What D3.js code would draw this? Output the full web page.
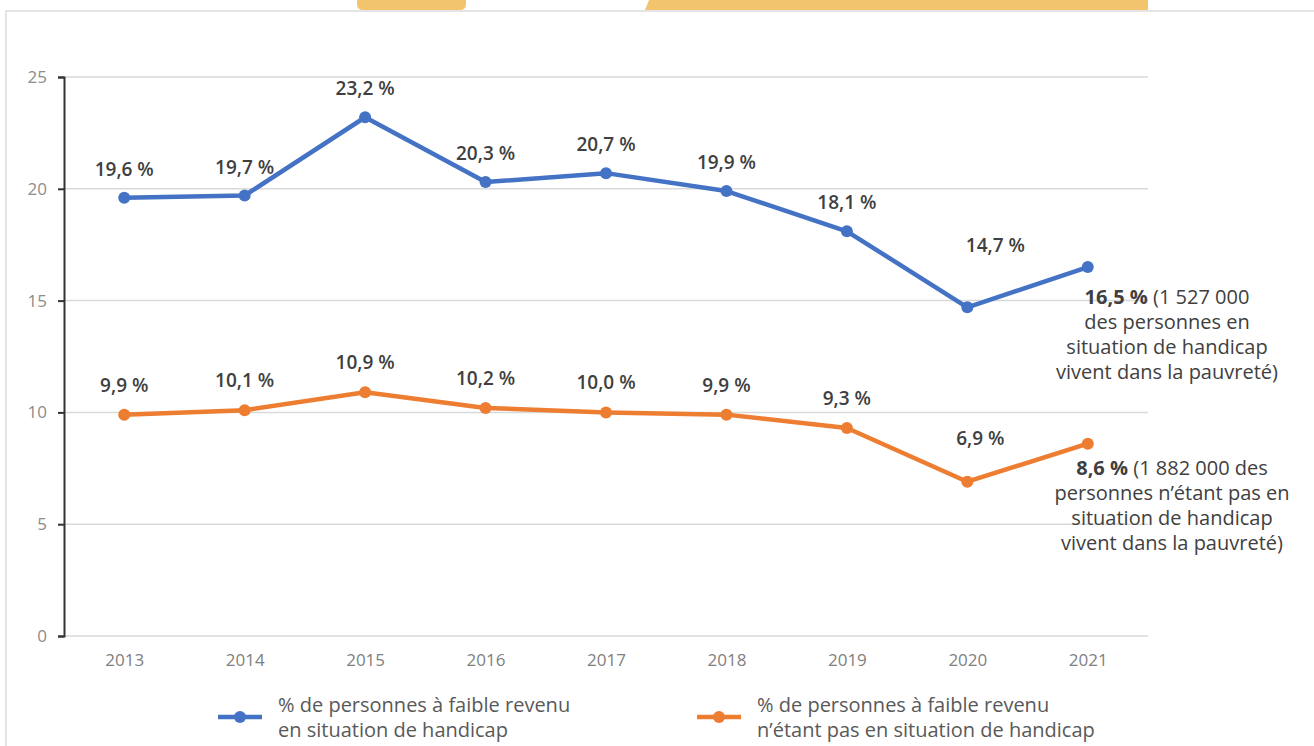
<!DOCTYPE html>
<html>
<head>
<meta charset="utf-8">
<script src="https://cdn.jsdelivr.net/npm/d3@7"></script>
<style>
  body { margin: 0; background: #fff; }
  svg { display: block; font-family: "Open Sans", "Noto Sans", sans-serif; }
</style>
</head>
<body>
<svg id="chart" width="1314" height="746"></svg>
<script>
const years = ['2013', '2014', '2015', '2016', '2017', '2018', '2019', '2020', '2021'];
const handicap = [19.6, 19.7, 23.2, 20.3, 20.7, 19.9, 18.1, 14.7, 16.5];
const sansHandicap = [9.9, 10.1, 10.9, 10.2, 10.0, 9.9, 9.3, 6.9, 8.6];
const yTicks = [0, 5, 10, 15, 20, 25];
const legendLabels = [
  ['% de personnes à faible revenu', 'en situation de handicap'],
  ['% de personnes à faible revenu', 'n\u2019étant pas en situation de handicap']
];
const noteHandicap = ['16,5 %', ' (1 527 000', 'des personnes en', 'situation de handicap', 'vivent dans la pauvreté)'];
const noteSans = ['8,6 %', ' (1 882 000 des', 'personnes n\u2019étant pas en', 'situation de handicap', 'vivent dans la pauvreté)'];

const blue = '#4472c4', orange = '#ed7d31';
const fmt = (v) => d3.format('.1f')(v).replace('.', ',') + ' %';

const svg = d3.select('#chart');

// bandeau du haut (reste de la page)
svg.append('path')
  .attr('d', 'M357,0 H466 V4 Q466,10 460,10 H363 Q357,10 357,4 Z')
  .attr('fill', '#f2c46d');
svg.append('path')
  .attr('d', 'M649,0 H1148 V10 H645 Z')
  .attr('fill', '#f2c46d');
svg.append('line').attr('x1', 5).attr('x2', 1314).attr('y1', 11).attr('y2', 11)
  .attr('stroke', '#e4e4e4').attr('stroke-width', 2);
svg.append('line').attr('x1', 6).attr('x2', 6).attr('y1', 11).attr('y2', 746)
  .attr('stroke', '#e4e4e4').attr('stroke-width', 2);

const x = d3.scalePoint().domain(years).range([64, 1148]).padding(0.5);
const y = d3.scaleLinear().domain([0, 25]).range([636, 77]);

// quadrillage
svg.append('g')
  .selectAll('line')
  .data(yTicks)
  .join('line')
  .attr('x1', 64).attr('x2', 1148)
  .attr('y1', (d) => y(d)).attr('y2', (d) => y(d))
  .attr('stroke', '#d9d9d9').attr('stroke-width', 1.5);

// axe Y
const yAxis = svg.append('g')
  .attr('transform', 'translate(64,0)')
  .call(d3.axisLeft(y).tickValues(yTicks).tickSize(6).tickPadding(11));
yAxis.select('.domain').attr('stroke', '#333').attr('stroke-width', 2);
yAxis.selectAll('.tick line').attr('stroke', '#333').attr('stroke-width', 2);
yAxis.selectAll('text').attr('fill', '#8c8c8c')
  .style('font-size', '17px').style('font-family', '"Open Sans", sans-serif');

// axe X
const xAxis = svg.append('g')
  .attr('transform', 'translate(0,636)')
  .call(d3.axisBottom(x).tickSize(0).tickPadding(18));
xAxis.select('.domain').remove();
xAxis.selectAll('text').attr('fill', '#808080')
  .style('font-size', '17px').style('font-family', '"Open Sans", sans-serif');

const line = d3.line().x((d, i) => x(years[i])).y((d) => y(d));

// décalages manuels des étiquettes (comme dans l'original)
const blueOffset = { '2020': [28, -55] };
const orangeOffset = { '2020': [13, -37] };

function drawSeries(values, color, offsets, dy) {
  const g = svg.append('g');
  g.append('path')
    .datum(values)
    .attr('d', line)
    .attr('fill', 'none')
    .attr('stroke', color)
    .attr('stroke-width', 4.5)
    .attr('stroke-linejoin', 'round');
  g.selectAll('circle')
    .data(values)
    .join('circle')
    .attr('cx', (d, i) => x(years[i]))
    .attr('cy', (d) => y(d))
    .attr('r', 6)
    .attr('fill', color);
  g.selectAll('text')
    .data(values.slice(0, values.length - 1))
    .join('text')
    .attr('text-anchor', 'middle')
    .attr('x', (d, i) => x(years[i]) + (offsets[years[i]] ? offsets[years[i]][0] : 0))
    .attr('y', (d, i) => y(d) + (offsets[years[i]] ? offsets[years[i]][1] : dy))
    .attr('fill', '#404040')
    .style('font-size', '19px')
    .style('font-weight', '600')
    .text((d) => fmt(d));
}

drawSeries(handicap, blue, blueOffset, -22);
drawSeries(sansHandicap, orange, orangeOffset, -23);

// notes à droite
function drawNote(lines, cx, top) {
  const t = svg.append('text')
    .attr('text-anchor', 'middle')
    .attr('fill', '#404040')
    .style('font-size', '20px');
  const first = t.append('tspan').attr('x', cx).attr('y', top);
  first.append('tspan').style('font-weight', '700').text(lines[0]);
  first.append('tspan').text(lines[1]);
  lines.slice(2).forEach((l, i) => {
    t.append('tspan').attr('x', cx).attr('y', top + 25 * (i + 1)).text(l);
  });
}
drawNote(noteHandicap, 1167, 304);
drawNote(noteSans, 1172, 475);

// légende
const legend = svg.append('g');
[[blue, 218], [orange, 697]].forEach(([c, lx], i) => {
  legend.append('line')
    .attr('x1', lx).attr('x2', lx + 44).attr('y1', 717).attr('y2', 717)
    .attr('stroke', c).attr('stroke-width', 4.5);
  legend.append('circle').attr('cx', lx + 22).attr('cy', 717).attr('r', 6).attr('fill', c);
  legendLabels[i].forEach((l, j) => {
    legend.append('text')
      .attr('x', lx + 60).attr('y', 712 + j * 25)
      .attr('fill', '#595959')
      .style('font-size', '20px')
      .text(l);
  });
});
</script>
</body>
</html>
